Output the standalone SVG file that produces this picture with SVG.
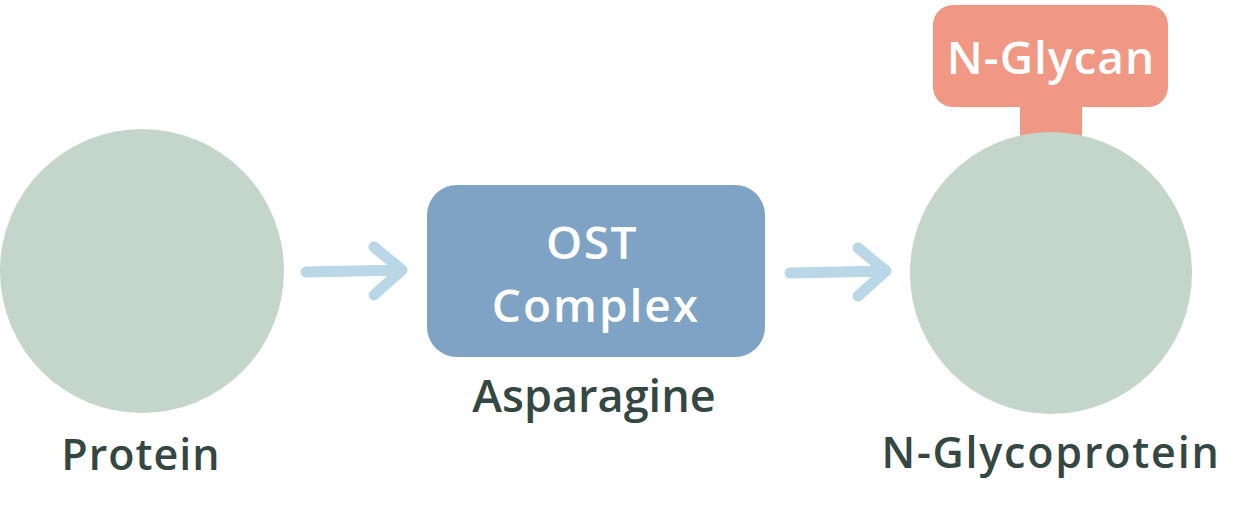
<svg xmlns="http://www.w3.org/2000/svg" width="1250" height="508" viewBox="0 0 1250 508">
<style>
.circle{fill:#c4d6cb}
.lbl{font-family:"Open Sans","Liberation Sans",sans-serif;font-weight:600;fill:#354742;text-anchor:middle}
.wt{font-family:"Open Sans","Liberation Sans",sans-serif;font-weight:600;fill:#ffffff;text-anchor:middle}
.arr{fill:none;stroke:#b9d7e6;stroke-width:11;stroke-linecap:round;stroke-linejoin:round}
</style>
<rect width="1250" height="508" fill="#ffffff"/>
<g id="protein">
<circle class="circle" cx="142" cy="271" r="142"/>
<text class="lbl" x="141" y="470" font-size="43" letter-spacing="1">Protein</text>
</g>
<g id="ost">
<rect x="427" y="185" width="338" height="172" rx="30" fill="#7fa3c5"/>
<text class="wt" x="592" y="259" font-size="46" letter-spacing="1.5">OST</text>
<text class="wt" x="596" y="322" font-size="46" letter-spacing="2">Complex</text>
<text class="lbl" x="594" y="412" font-size="45">Asparagine</text>
</g>
<g id="nglycoprotein">
<rect x="1020" y="90" width="62" height="50" fill="#f09884"/>
<circle class="circle" cx="1051" cy="273" r="141"/>
<rect x="933" y="5" width="235" height="102" rx="20" fill="#f09884"/>
<text class="wt" x="1051" y="74" font-size="46" font-weight="700" letter-spacing="1">N-Glycan</text>
<text class="lbl" x="1051" y="468" font-size="43" letter-spacing="1.8">N-Glycoprotein</text>
</g>
<g id="connectors">
<path class="arr" d="M306,272 L402,270 M374,247 L402,270 L374,295"/>
<path class="arr" d="M790,273 L886,271 M858,248 L886,271 L858,296"/>
</g>
</svg>
